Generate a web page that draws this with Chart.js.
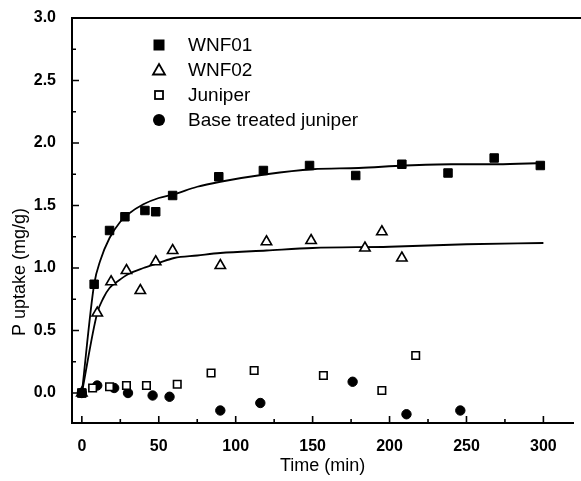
<!DOCTYPE html>
<html><head><meta charset="utf-8">
<script src="https://cdn.jsdelivr.net/npm/chart.js@4.4.0/dist/chart.umd.min.js"></script>
<style>html,body{margin:0;padding:0;background:#fff}#wrap{width:581px;height:481px}</style>
</head><body><div id="wrap"><canvas id="c" width="581" height="481"></canvas></div>
<script>
// ---- data ----
const wnf01Time   = [0, 8, 18, 28, 41, 48, 59, 89, 118, 148, 178, 208, 238, 268, 298];
const wnf01Uptake = [0, 0.87, 1.30, 1.41, 1.46, 1.45, 1.58, 1.73, 1.78, 1.82, 1.74, 1.83, 1.76, 1.88, 1.82];
const wnf02Time   = [0, 10, 19, 29, 38, 48, 59, 90, 120, 149, 184, 195, 208];
const wnf02Uptake = [0, 0.64, 0.89, 0.98, 0.82, 1.05, 1.14, 1.02, 1.21, 1.22, 1.16, 1.29, 1.08];
const juniperTime   = [0, 7, 18, 29, 42, 62, 84, 112, 157, 195, 217];
const juniperUptake = [0, 0.04, 0.05, 0.06, 0.06, 0.07, 0.16, 0.18, 0.14, 0.02, 0.30];
const baseTime   = [0, 10, 21, 30, 46, 57, 90, 116, 176, 211, 246];
const baseUptake = [0, 0.06, 0.04, 0.00, -0.02, -0.03, -0.14, -0.08, 0.09, -0.17, -0.14];
// fitted curves
const fit01Time   = [0, 8, 12, 18, 25, 30, 40, 50, 60, 75, 90, 120, 150, 180, 210, 240, 270, 300];
const fit01Uptake = [0, 0.87, 1.06, 1.24, 1.37, 1.43, 1.51, 1.56, 1.59, 1.65, 1.69, 1.75, 1.79, 1.80, 1.82, 1.83, 1.83, 1.84];
const fit02Time   = [0, 10, 14, 18, 24, 30, 40, 50, 60, 75, 90, 120, 150, 200, 250, 300];
const fit02Uptake = [0, 0.64, 0.76, 0.84, 0.90, 0.95, 1.00, 1.04, 1.08, 1.10, 1.12, 1.14, 1.16, 1.17, 1.19, 1.20];
const seriesNames = ['WNF01', 'WNF02', 'Juniper', 'Base treated juniper'];
const xTicks = [0, 50, 100, 150, 200, 250, 300];
const yTicks = [0, 0.5, 1.0, 1.5, 2.0, 2.5, 3.0];
const xTitle = 'Time (min)';
const yTitle = 'P uptake (mg/g)';

const pts = (xs, ys) => xs.map((x, i) => ({x: x, y: ys[i]}));
const FONT = "'Liberation Sans', Arial, sans-serif";

const decorPlugin = {
  id: 'decor',
  afterDraw(chart) {
    const ctx = chart.ctx, a = chart.chartArea;
    const xs = chart.scales.x, ys = chart.scales.y;
    ctx.save();
    ctx.strokeStyle = '#000';
    // top frame line
    ctx.lineWidth = 2;
    ctx.beginPath(); ctx.moveTo(a.left - 1, a.top); ctx.lineTo(chart.width, a.top); ctx.stroke();
    // inward ticks
    ctx.lineWidth = 1.6;
    ctx.beginPath();
    xTicks.forEach((v, i) => {
      const p = xs.getPixelForValue(v);
      ctx.moveTo(p, a.bottom); ctx.lineTo(p, a.bottom - 7);
      const m = (i < xTicks.length - 1) ? (v + xTicks[i + 1]) / 2 : v + (v - xTicks[i - 1]) / 2;
      if (m <= xs.max) { const pm = xs.getPixelForValue(m); ctx.moveTo(pm, a.bottom); ctx.lineTo(pm, a.bottom - 4); }
    });
    yTicks.forEach((v, i) => {
      const p = ys.getPixelForValue(v);
      ctx.moveTo(a.left, p); ctx.lineTo(a.left + 7, p);
      if (i < yTicks.length - 1) {
        const pm = ys.getPixelForValue((v + yTicks[i + 1]) / 2);
        ctx.moveTo(a.left, pm); ctx.lineTo(a.left + 4, pm);
      }
    });
    ctx.stroke();
    // y title
    ctx.fillStyle = '#000';
    ctx.font = '18px ' + FONT;
    ctx.textAlign = 'center'; ctx.textBaseline = 'middle';
    ctx.translate(20, 272); ctx.rotate(-Math.PI / 2);
    ctx.fillText(yTitle, 0, 0);
    ctx.setTransform(1, 0, 0, 1, 0, 0);
    // legend
    const lx = 159, tx = 188, ly0 = 45, dy = 25;
    ctx.font = '19px ' + FONT;
    ctx.textAlign = 'left'; ctx.textBaseline = 'middle';
    seriesNames.forEach((name, i) => {
      const y = ly0 + i * dy;
      ctx.lineWidth = 1.8;
      ctx.beginPath();
      if (i === 0) { ctx.fillRect(lx - 5.5, y - 5.5, 11, 11); }
      else if (i === 1) {
        ctx.moveTo(lx, y - 6); ctx.lineTo(lx + 6, y + 4.5); ctx.lineTo(lx - 6, y + 4.5); ctx.closePath(); ctx.stroke();
      } else if (i === 2) { ctx.strokeRect(lx - 4, y - 4, 8, 8); }
      else { ctx.arc(lx, y, 6, 0, Math.PI * 2); ctx.fill(); }
      ctx.fillText(name, tx, y + 1);
    });
    ctx.restore();
  }
};

new Chart(document.getElementById('c'), {
  type: 'scatter',
  data: {
    datasets: [
      {label: 'fit WNF01', type: 'line', data: pts(fit01Time, fit01Uptake), borderColor: '#000', borderWidth: 1.8,
       pointRadius: 0, fill: false, cubicInterpolationMode: 'monotone', order: 5},
      {label: 'fit WNF02', type: 'line', data: pts(fit02Time, fit02Uptake), borderColor: '#000', borderWidth: 1.8,
       pointRadius: 0, fill: false, cubicInterpolationMode: 'monotone', order: 5},
      {label: seriesNames[0], data: pts(wnf01Time, wnf01Uptake), pointStyle: 'rect', pointRadius: 6,
       backgroundColor: '#000', borderColor: '#000', borderWidth: 1, order: 1},
      {label: seriesNames[1], data: pts(wnf02Time, wnf02Uptake), pointStyle: 'triangle', pointRadius: 6,
       backgroundColor: '#fff', borderColor: '#000', borderWidth: 1.6, order: 1},
      {label: seriesNames[2], data: pts(juniperTime, juniperUptake), pointStyle: 'rect', pointRadius: 5.3,
       backgroundColor: '#fff', borderColor: '#000', borderWidth: 1.6, order: 1},
      {label: seriesNames[3], data: pts(baseTime, baseUptake), pointStyle: 'circle', pointRadius: 4.7,
       backgroundColor: '#000', borderColor: '#000', borderWidth: 1, order: 1}
    ]
  },
  options: {
    responsive: false, animation: false, devicePixelRatio: 1,
    layout: {padding: {top: 18, right: 1, left: 0, bottom: 0}},
    plugins: {legend: {display: false}, tooltip: {enabled: false}},
    scales: {
      x: {
        type: 'linear', min: -6.4, max: 319.5,
        afterBuildTicks: s => { s.ticks = xTicks.map(v => ({value: v})); },
        afterFit: s => { s.height = 58; },
        grid: {display: false},
        border: {display: true, color: '#000', width: 2},
        ticks: {color: '#000', font: {family: FONT, size: 16, weight: 'bold'}, padding: 6, maxRotation: 0, autoSkip: false},
        title: {display: true, text: xTitle, color: '#000', font: {family: FONT, size: 18}, padding: {top: 4, bottom: 4}}
      },
      y: {
        type: 'linear', min: -0.24, max: 3.0,
        afterBuildTicks: s => { s.ticks = yTicks.map(v => ({value: v})); },
        afterFit: s => { s.width = 72; },
        grid: {display: false},
        border: {display: true, color: '#000', width: 2},
        ticks: {color: '#000', font: {family: FONT, size: 16, weight: 'bold'}, padding: 8,
                callback: v => Number(v).toFixed(1)}
      }
    }
  },
  plugins: [decorPlugin]
});
</script>
</body></html>
